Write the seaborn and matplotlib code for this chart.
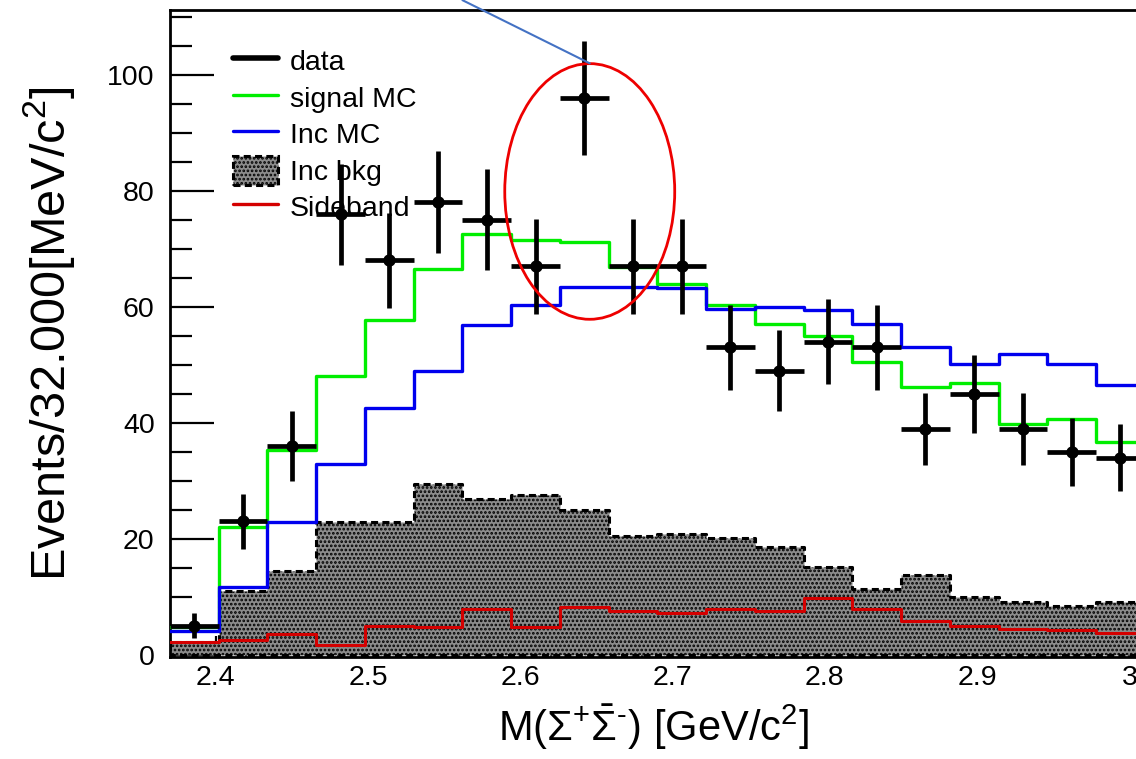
import numpy as np
import pandas as pd
import matplotlib
matplotlib.use("Agg")
import matplotlib.pyplot as plt
import seaborn as sns
from matplotlib.lines import Line2D
from matplotlib.patches import Patch, Ellipse

# ---------------- data ----------------
bin_edges = [2.37 + 0.032 * k for k in range(21)]
bin_centers = [2.386, 2.418, 2.450, 2.482, 2.514, 2.546, 2.578, 2.610, 2.642, 2.674,
               2.706, 2.738, 2.770, 2.802, 2.834, 2.866, 2.898, 2.930, 2.962, 2.994]
data_counts = [5, 23, 36, 76, 68, 78, 75, 67, 96, 67,
               67, 53, 49, 54, 53, 39, 45, 39, 35, 34]
data_errors = [2.2, 4.8, 6.0, 8.7, 8.2, 8.8, 8.7, 8.2, 9.8, 8.2,
               8.2, 7.3, 7.0, 7.3, 7.3, 6.2, 6.7, 6.2, 5.9, 5.8]
signal_mc = [4.7, 22.1, 35.3, 48.1, 57.7, 66.6, 72.5, 71.5, 71.2, 66.9,
             64.0, 60.4, 57.0, 54.9, 50.4, 46.1, 46.9, 39.8, 40.6, 36.6]
inc_mc = [4.0, 11.6, 22.9, 32.9, 42.5, 49.0, 56.8, 60.4, 63.4, 63.4,
          63.3, 59.6, 59.9, 59.4, 57.0, 53.1, 50.1, 51.8, 50.2, 46.5]
inc_bkg = [2.2, 10.9, 14.5, 22.9, 22.9, 29.4, 26.8, 27.5, 24.9, 20.5,
           20.9, 20.1, 18.5, 15.2, 11.4, 13.7, 9.9, 9.0, 8.4, 9.0]
sideband = [2.1, 2.5, 3.6, 1.6, 5.0, 4.8, 7.8, 4.8, 8.3, 7.6,
            7.2, 7.9, 7.6, 9.8, 7.8, 5.8, 5.0, 4.5, 4.3, 3.7]

legend_labels = ["data", "signal MC", "Inc MC", "Inc bkg", "Sideband"]
xlabel = r"M($\Sigma^{+}\bar{\Sigma}^{\text{-}}$) [GeV/c$^{2}$]"
ylabel = r"Events/32.000[MeV/c$^{2}$]"
xticks = [2.4, 2.5, 2.6, 2.7, 2.8, 2.9, 3.0]
xticklabels = ["2.4", "2.5", "2.6", "2.7", "2.8", "2.9", "3"]
yticks = [0, 20, 40, 60, 80, 100]

df = pd.DataFrame({"x": bin_centers, "data": data_counts, "err": data_errors,
                   "sig": signal_mc, "inc": inc_mc, "bkg": inc_bkg, "sb": sideband})

# ---------------- style ----------------
sns.set_theme(style="ticks")
plt.rcParams["font.family"] = ["Liberation Sans", "DejaVu Sans"]
plt.rcParams["mathtext.fontset"] = "custom"
plt.rcParams["mathtext.rm"] = "Liberation Sans"
plt.rcParams["mathtext.it"] = "Liberation Sans"
plt.rcParams["mathtext.bf"] = "Liberation Sans:bold"
plt.rcParams["hatch.linewidth"] = 1.3
for k in ["text.color", "axes.labelcolor", "xtick.color", "ytick.color",
          "axes.edgecolor"]:
    plt.rcParams[k] = "black"

BKG_FACE = "#8c8c8c"

W, H = 1136, 759
fig = plt.figure(figsize=(W / 100, H / 100), dpi=100)
ax = fig.add_axes([170 / W, 1 - 656.7 / H, (W - 170) / W, (656.7 - 10) / H])

# Inc bkg (hatched, dashed outline)
sns.histplot(data=df, x="x", weights="bkg", bins=bin_edges, element="step",
             fill=True, ax=ax, facecolor=BKG_FACE, edgecolor="black",
             hatch="....", linestyle=(0, (2.3, 1.4)), linewidth=2.2, alpha=1.0,
             zorder=2)
# Sideband
sns.histplot(data=df, x="x", weights="sb", bins=bin_edges, element="step",
             fill=False, ax=ax, color="#d40000", linewidth=2.2, zorder=3)
# Signal MC
sns.histplot(data=df, x="x", weights="sig", bins=bin_edges, element="step",
             fill=False, ax=ax, color="#00ee00", linewidth=2.4, zorder=3)
# Inc MC
sns.histplot(data=df, x="x", weights="inc", bins=bin_edges, element="step",
             fill=False, ax=ax, color="#0000ee", linewidth=2.4, zorder=4)

# data points
half_w = np.diff(bin_edges) / 2
ax.errorbar(df["x"], df["data"], xerr=half_w, yerr=df["err"], fmt="none",
            ecolor="black", elinewidth=3.4, capsize=0, zorder=6)
sns.scatterplot(data=df, x="x", y="data", ax=ax, color="black", s=80,
                edgecolor="black", linewidth=0, zorder=7)

# annotations
ell = Ellipse((2.6456, 79.9), width=0.1116, height=44.1, fill=False,
              edgecolor="#ee0000", linewidth=2.0, zorder=8)
ax.add_patch(ell)
ax.plot([2.562, 2.6456], [112.9, 102.0], color="#4472c4", linewidth=1.5,
        clip_on=False, zorder=8)

# axes
ax.set_xlim(2.37, 2.37 + 966 / 1523)
ax.set_ylim(-0.35, 111.2)
ax.set_xticks(xticks)
ax.set_xticklabels(xticklabels)
ax.set_yticks(yticks)
ax.set_xticks(np.arange(2.38, 3.01, 0.02), minor=True)
ax.set_yticks(np.arange(0, 111, 5), minor=True)
ax.tick_params(axis="both", which="both", direction="in", colors="black",
               width=1.6, labelsize=20.5)
ax.tick_params(axis="x", which="major", length=15, pad=6)
ax.tick_params(axis="x", which="minor", length=7)
ax.tick_params(axis="y", which="major", length=32, pad=11)
ax.tick_params(axis="y", which="minor", length=16)
for s in ["left", "bottom", "top"]:
    ax.spines[s].set_linewidth(2)
    ax.spines[s].set_color("black")
ax.spines["right"].set_visible(False)

ax.set_xlabel(xlabel, fontsize=30, labelpad=8)
ax.set_ylabel(ylabel, fontsize=35, labelpad=22)

# legend
handles = [
    Line2D([], [], color="black", linewidth=4),
    Line2D([], [], color="#00ee00", linewidth=2.4),
    Line2D([], [], color="#0000ee", linewidth=2.4),
    Patch(facecolor=BKG_FACE, edgecolor="black", hatch="....",
          linestyle=(0, (2.3, 1.4)), linewidth=2.2),
    Line2D([], [], color="#d40000", linewidth=2.4),
]
leg = ax.legend(handles, legend_labels, loc="upper left",
                bbox_to_anchor=(0.065, 0.944), frameon=False, fontsize=20.5,
                handlelength=1.6, handleheight=1.2, handletextpad=0.4,
                labelspacing=0.22, borderpad=0, borderaxespad=0)
leg.set_zorder(5)

fig.savefig("out.png", dpi=100)
